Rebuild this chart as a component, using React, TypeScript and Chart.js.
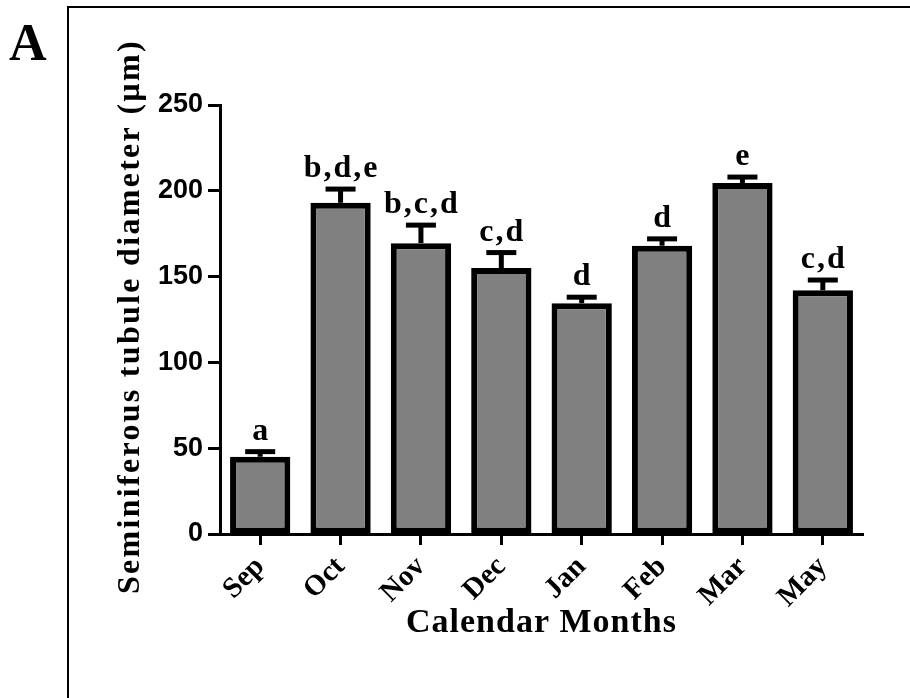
import React, { useEffect, useRef } from "react";
import { Chart, registerables } from "chart.js";

Chart.register(...registerables);

const months = ["Sep", "Oct", "Nov", "Dec", "Jan", "Feb", "Mar", "May"];
const diameters = [45, 193, 169.5, 155, 134.5, 168, 204.5, 142];
const sem = [3, 8, 10.5, 9, 3.5, 4, 3.5, 6];
const letters = ["a", "b,d,e", "b,c,d", "c,d", "d", "d", "e", "c,d"];
const yTicks = [0, 50, 100, 150, 200, 250];
const yTitle = "Seminiferous tubule diameter (µm)";
const xTitle = "Calendar Months";
const panelLabel = "A";

const annotations = {
  id: "annotations",
  afterDatasetsDraw(chart: any) {
    const ctx = chart.ctx as CanvasRenderingContext2D;
    const xs = chart.scales.x;
    const ys = chart.scales.y;
    ctx.save();
    ctx.strokeStyle = "#000";
    ctx.fillStyle = "#000";
    ctx.lineWidth = 5;
    ctx.lineCap = "butt";
    diameters.forEach((v, i) => {
      const px = xs.getPixelForValue(i);
      const y0 = ys.getPixelForValue(v);
      const y1 = ys.getPixelForValue(v + sem[i]);
      ctx.beginPath();
      ctx.moveTo(px, y0);
      ctx.lineTo(px, y1);
      ctx.stroke();
      ctx.beginPath();
      ctx.moveTo(px - 15, y1);
      ctx.lineTo(px + 15, y1);
      ctx.stroke();
      ctx.font = "bold 32px 'Liberation Serif'";
      (ctx as any).letterSpacing = "2px";
      ctx.textAlign = "center";
      ctx.textBaseline = "alphabetic";
      ctx.fillText(letters[i], px + 1, y1 - 12);
    });
    ctx.restore();
  },
  afterDraw(chart: any) {
    const ctx = chart.ctx as CanvasRenderingContext2D;
    const area = chart.chartArea;
    ctx.save();
    ctx.fillStyle = "#000";
    ctx.textAlign = "center";
    ctx.textBaseline = "middle";
    ctx.font = "bold 32px 'Liberation Serif'";
    (ctx as any).letterSpacing = "2.3px";
    ctx.translate(131, (area.top + area.bottom) / 2 - 2);
    ctx.rotate(-Math.PI / 2);
    ctx.fillText(yTitle, 1, 0);
    ctx.restore();
    ctx.save();
    ctx.fillStyle = "#000";
    ctx.textAlign = "center";
    ctx.textBaseline = "middle";
    ctx.font = "bold 34px 'Liberation Serif'";
    (ctx as any).letterSpacing = "1px";
    ctx.fillText(xTitle, (area.left + area.right) / 2, 623);
    ctx.restore();
  },
};

export default function App() {
  const ref = useRef<HTMLCanvasElement | null>(null);
  useEffect(() => {
    if (!ref.current) return;
    const chart = new Chart(ref.current, {
      type: "bar",
      data: {
        labels: months,
        datasets: [
          {
            data: diameters,
            backgroundColor: "#808080",
            borderColor: "#000",
            borderWidth: 6,
            borderSkipped: false,
            barPercentage: 0.75,
            categoryPercentage: 1,
          },
        ],
      },
      options: {
        animation: false,
        responsive: false,
        layout: { padding: { left: 0, right: 47, top: 105, bottom: 0 } },
        plugins: { legend: { display: false }, tooltip: { enabled: false } },
        scales: {
          x: {
            offset: true,
            grid: {
              display: true,
              drawOnChartArea: false,
              drawTicks: true,
              tickLength: 11,
              tickWidth: 3,
              tickColor: "#000",
              offset: false,
            },
            border: { display: true, color: "#000", width: 3 },
            ticks: {
              color: "#000",
              font: { family: "Liberation Serif", weight: "bold", size: 29 },
              maxRotation: 45,
              minRotation: 45,
              padding: 5,
              autoSkip: false,
            },
            afterFit: (s: any) => {
              s.height = 164;
            },
          },
          y: {
            min: 0,
            max: 250,
            afterBuildTicks: (s: any) => {
              s.ticks = yTicks.map((v) => ({ value: v }));
            },
            grid: {
              display: true,
              drawOnChartArea: false,
              drawTicks: true,
              tickLength: 12,
              tickWidth: 3,
              tickColor: "#000",
            },
            border: { display: true, color: "#000", width: 3 },
            ticks: {
              color: "#000",
              font: { family: "Liberation Sans", weight: "bold", size: 27 },
              padding: 5,
            },
            afterFit: (s: any) => {
              s.width = 220;
            },
          },
        },
      },
      plugins: [annotations],
    });
    return () => chart.destroy();
  }, []);

  return (
    <div style={{ position: "absolute", left: 0, top: 0, width: 910, height: 698, background: "#fff", overflow: "hidden" }}>
      <div
        style={{
          position: "absolute",
          left: 67,
          top: 6,
          width: 860,
          height: 700,
          borderLeft: "2px solid #000",
          borderTop: "2px solid #000",
        }}
      />
      <div
        style={{
          position: "absolute",
          left: 9,
          top: 17,
          font: "bold 52px 'Liberation Serif'",
          lineHeight: "52px",
          color: "#000",
        }}
      >
        {panelLabel}
      </div>
      <canvas ref={ref} width={910} height={698} style={{ position: "absolute", left: 0, top: 0 }} />
    </div>
  );
}
